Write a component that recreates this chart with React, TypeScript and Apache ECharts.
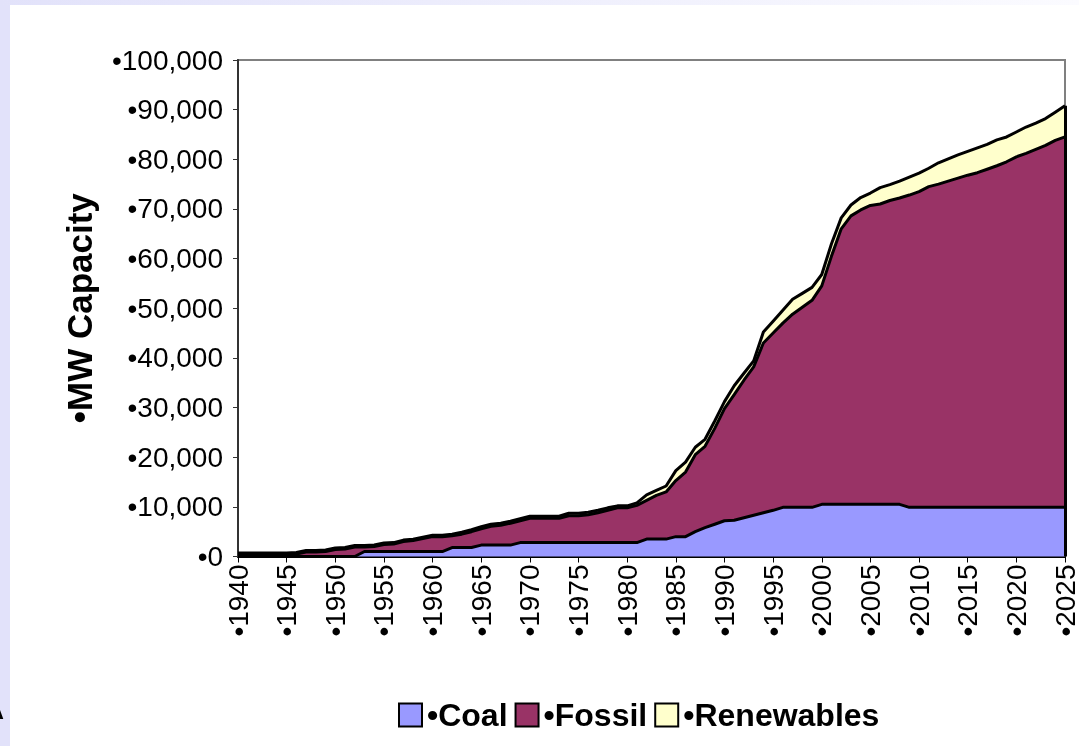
import { useEffect, useRef } from 'react';
import * as echarts from 'echarts';

// Installed capacity (MW) by resource type, 1940–2025
const years = Array.from({ length: 86 }, (_, i) => String(1940 + i));

const coal = [
  0, 0, 0, 0, 0, 0, 0, 0, 0, 0, // 1940s
  0, 0, 0, 1000, 1000, 1000, 1000, 1000, 1000, 1000, // 1950s
  1000, 1000, 1800, 1800, 1800, 2300, 2300, 2300, 2300, 2800, // 1960s
  2800, 2800, 2800, 2800, 2800, 2800, 2800, 2800, 2800, 2800, // 1970s
  2800, 2800, 3500, 3500, 3500, 4000, 4000, 5000, 5800, 6500, // 1980s
  7200, 7300, 7800, 8300, 8800, 9300, 9900, 9900, 9900, 9900, // 1990s
  10500, 10500, 10500, 10500, 10500, 10500, 10500, 10500, 10500, 9900, // 2000s
  9900, 9900, 9900, 9900, 9900, 9900, 9900, 9900, 9900, 9900, // 2010s
  9900, 9900, 9900, 9900, 9900, 9900, // 2020–2025
];

const fossil = [
  400, 400, 400, 400, 400, 400, 500, 900, 900, 1000,
  1400, 1500, 1900, 900, 1000, 1400, 1500, 2000, 2200, 2600,
  3000, 3000, 2400, 2700, 3200, 3300, 3800, 4000, 4400, 4400,
  4900, 4900, 4900, 4900, 5400, 5400, 5600, 6000, 6500, 7000,
  7000, 7500, 7800, 8800, 9500, 11300, 13000, 15500, 16400, 19300,
  22600, 25300, 27700, 29900, 34200, 35700, 37100, 38900, 40300, 41700,
  44000, 50000, 55500, 58100, 59300, 60200, 60500, 61200, 61700, 62900,
  63600, 64600, 65100, 65700, 66300, 66900, 67400, 68100, 68800, 69600,
  70600, 71300, 72100, 72900, 73900, 74600,
];

const renewables = [
  300, 300, 300, 300, 300, 300, 300, 300, 300, 300,
  300, 300, 300, 300, 300, 300, 300, 300, 300, 300,
  300, 300, 300, 400, 400, 400, 400, 400, 400, 400,
  400, 400, 400, 400, 500, 500, 500, 500, 500, 400,
  400, 500, 1100, 1000, 1200, 2000, 2000, 1500, 1400, 1500,
  1400, 1800, 1400, 1200, 2200, 2400, 2600, 3000, 2800, 2600,
  2300, 2500, 2200, 2200, 2500, 2500, 3300, 3200, 3400, 3600,
  3700, 3700, 4300, 4500, 4700, 4800, 5000, 5000, 5200, 5000,
  5000, 5300, 5300, 5400, 5700, 6300,
];

const seriesNames = ['•Coal', '•Fossil', '•Renewables'];
const seriesColors = ['#9999FF', '#993366', '#FFFFCC'];
const yAxisTitle = '•MW Capacity';
const yMax = 100000;
const yStep = 10000;

export default function App() {
  const ref = useRef<HTMLDivElement>(null);

  useEffect(() => {
    if (!ref.current) return;
    const chart = echarts.init(ref.current, null, { renderer: 'svg' });
    const font = "'Liberation Sans', Arial, sans-serif";
    const values = [coal, fossil, renewables];
    const last = years.length - 1;
    const total = coal[last] + fossil[last] + renewables[last];

    chart.setOption({
      animation: false,
      textStyle: { fontFamily: font },
      graphic: [
        {
          type: 'rect', z: -100, silent: true,
          shape: { x: 0, y: 0, width: 1079, height: 746 },
          style: { fill: '#E2E2FA' },
        },
        {
          type: 'rect', z: -99, silent: true,
          shape: { x: 0, y: 0, width: 1079, height: 5 },
          style: {
            fill: new echarts.graphic.LinearGradient(0, 0, 1, 0, [
              { offset: 0, color: '#E2E2FA' },
              { offset: 1, color: '#FBFBFF' },
            ]),
          },
        },
        {
          type: 'rect', z: -98, silent: true,
          shape: { x: 10, y: 5, width: 1069, height: 741 },
          style: { fill: '#FFFFFF' },
        },
        {
          type: 'text', z: -97, silent: true, x: -12, y: 700,
          style: { text: 'A', font: `bold 22px ${font}`, fill: '#000' },
        },
      ],
      grid: {
        left: 238, right: 10, top: 60, bottom: 189.5,
        show: true, borderColor: '#808080', borderWidth: 2,
      },
      legend: {
        left: 393, top: 694,
        itemWidth: 23, itemHeight: 23, itemGap: 7,
        icon: 'rect',
        textStyle: { fontSize: 32, fontWeight: 'bold', color: '#000', fontFamily: font },
        data: seriesNames.map((name, i) => ({
          name,
          itemStyle: { color: seriesColors[i], borderColor: '#000', borderWidth: 2 },
        })),
      },
      xAxis: {
        type: 'category',
        data: years,
        boundaryGap: false,
        axisLine: { lineStyle: { color: '#000', width: 2 } },
        axisTick: { interval: 4, length: 6, lineStyle: { color: '#000', width: 1 } },
        axisLabel: {
          interval: 4, rotate: 90, margin: 8, fontSize: 28, color: '#000',
          formatter: (v: string) => '•' + v,
        },
        splitLine: { show: false },
      },
      yAxis: {
        type: 'value',
        min: 0, max: yMax, interval: yStep,
        name: yAxisTitle,
        nameLocation: 'middle',
        nameRotate: 90,
        nameGap: 141,
        nameTextStyle: { fontSize: 35, fontWeight: 'bold', color: '#000' },
        axisLine: { show: true, lineStyle: { color: '#333', width: 2 } },
        axisTick: { show: true, length: 5, lineStyle: { color: '#333', width: 1 } },
        axisLabel: {
          margin: 15, fontSize: 28, color: '#000',
          formatter: (v: number) => '•' + v.toLocaleString('en-US'),
        },
        splitLine: { show: false },
      },
      series: values.map((d, i) => ({
        name: seriesNames[i],
        type: 'line',
        stack: 'total',
        data: d,
        symbol: 'none',
        showSymbol: false,
        lineStyle: { color: '#000', width: 3 },
        itemStyle: { color: seriesColors[i] },
        areaStyle: { color: seriesColors[i], opacity: 1 },
        emphasis: { disabled: true },
        markLine: i === values.length - 1 ? {
          silent: true,
          symbol: 'none',
          label: { show: false },
          lineStyle: { color: '#000', width: 3, type: 'solid' },
          data: [[{ coord: [years[last], 0] }, { coord: [years[last], total] }]],
        } : undefined,
      })),
    });

    return () => chart.dispose();
  }, []);

  return (
    <div
      ref={ref}
      style={{ position: 'fixed', left: 0, top: 0, width: 1079, height: 746 }}
    />
  );
}
